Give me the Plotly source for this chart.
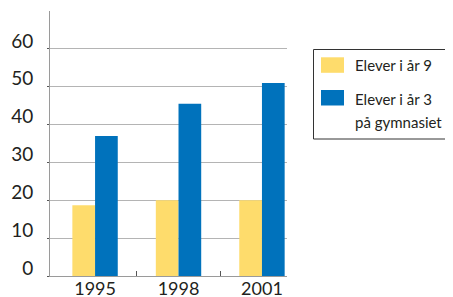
import plotly.graph_objects as go

years = ["1995", "1998", "2001"]
grade9 = [18.7, 20.0, 20.0]
gymn3 = [37.0, 45.5, 51.0]
names = ["Elever i år 9", "Elever i år 3 på gymnasiet"]
legend_lines = [["Elever i år 9"], ["Elever i år 3", "på gymnasiet"]]
colors = ["#FEDC6C", "#0072BC"]
yticks = [0, 10, 20, 30, 40, 50, 60]

# page body has an 8px default margin; shift the figure layout to compensate
OFF = 8
W, H = 453, 297
pw, ph = 237, 265
L, T = 50 - OFF, 11 - OFF
R, B = W - L - pw, H - T - ph

def px(x):
    return (x - OFF - L) / pw

def py(y):
    return (T + ph - (y - OFF)) / ph

fig = go.Figure()
for vals, nm, c in zip([grade9, gymn3], names, colors):
    fig.add_bar(x=years, y=vals, name=nm, marker=dict(color=c, line=dict(width=0)))

fnt = "Lato, Open Sans, sans-serif"
fig.update_layout(
    width=W, height=H, margin=dict(l=L, r=R, t=T, b=B, autoexpand=False),
    paper_bgcolor="white", plot_bgcolor="white",
    barmode="group", bargap=0.456, bargroupgap=0,
    showlegend=False,
    font=dict(family=fnt, color="#231F20"),
    xaxis=dict(
        type="category", range=[-0.54, 2.3],
        showline=True, linecolor="#9a9a9a", linewidth=1,
        ticks="", showgrid=False, tickfont=dict(size=18), ticklabelstandoff=-4,
        automargin=False,
    ),
    xaxis2=dict(overlaying="x", range=[-0.54, 2.3], tickvals=[0.5, 1.5],
                ticks="inside", ticklen=5, tickcolor="#555", showticklabels=False,
                showgrid=False, zeroline=False, showline=False, anchor="y",
                side="bottom", automargin=False),
)
fig.update_yaxes(
    range=[0, 70], tickvals=yticks,
    showline=True, linecolor="#9a9a9a", linewidth=1,
    showgrid=True, gridcolor="#b4b4b4", gridwidth=1,
    ticks="outside", ticklen=2, tickcolor="#555",
    tickfont=dict(size=19), ticklabelstandoff=10, ticklabelshift=-8,
    zeroline=False, automargin=False,
)
# invisible trace to activate the x2 tick axis
fig.add_scatter(x=[0], y=[0], xaxis="x2", mode="markers", marker=dict(opacity=0),
                hoverinfo="skip", showlegend=False)

# legend box
fig.add_shape(type="rect", xref="paper", yref="paper",
              x0=px(313.5), x1=px(451.5), y0=py(139), y1=py(49.5),
              line=dict(color="#333", width=1), fillcolor="white")
sw_tops = [57.3, 90]
txt_y = [65, 98.5]
for i, (lines, c) in enumerate(zip(legend_lines, colors)):
    fig.add_shape(type="rect", xref="paper", yref="paper",
                  x0=px(321), x1=px(344), y0=py(sw_tops[i] + 15.5), y1=py(sw_tops[i]),
                  line=dict(width=0), fillcolor=c)
    for j, ln in enumerate(lines):
        fig.add_annotation(xref="paper", yref="paper", x=px(353), y=py(txt_y[i] + 23 * j),
                           xanchor="left", yanchor="middle", text=ln, showarrow=False,
                           align="left", font=dict(size=15, family=fnt, color="#231F20"))

fig.write_html("out.html")
